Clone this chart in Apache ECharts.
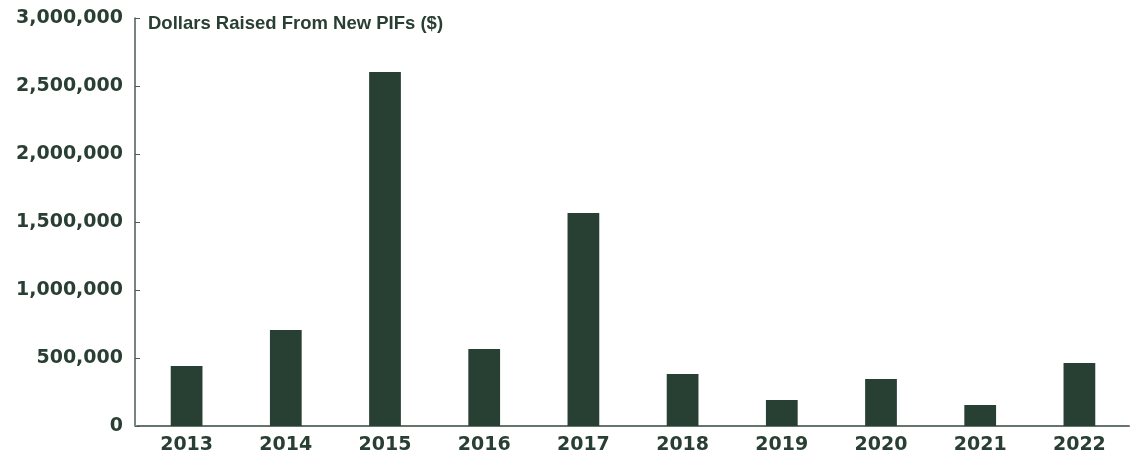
<!DOCTYPE html>
<html>
<head>
<meta charset="utf-8">
<script src="https://cdn.jsdelivr.net/npm/echarts@6/dist/echarts.min.js"></script>
<style>
  html, body { margin: 0; padding: 0; background: #fff; }
  #chart { width: 1133px; height: 461px; }
</style>
</head>
<body>
<div id="chart"></div>
<script>
// values
const years = ['2013', '2014', '2015', '2016', '2017', '2018', '2019', '2020', '2021', '2022'];
const dollarsRaised = [441000, 706000, 2603000, 566000, 1566000, 382000, 191000, 346000, 154000, 463000];
const chartTitle = 'Dollars Raised From New PIFs ($)';

const ink = '#2a3f34';
const barColor = '#283f33';

const chart = echarts.init(document.getElementById('chart'));
chart.setOption({
  animation: false,
  title: {
    text: chartTitle,
    left: 143,
    top: 9,
    textStyle: { fontFamily: 'Liberation Sans', fontWeight: 'bold', fontSize: 18.5, color: ink }
  },
  grid: { left: 137, right: 4, top: 18, bottom: 35 },
  xAxis: {
    type: 'category',
    data: years,
    axisLine: { lineStyle: { color: '#66756c', width: 2 } },
    axisTick: { show: false },
    axisLabel: {
      margin: 10,
      fontFamily: 'DejaVu Sans', fontWeight: 'bold', fontSize: 19, color: ink
    }
  },
  yAxis: {
    type: 'value',
    min: 0,
    max: 3000000,
    interval: 500000,
    offset: 2,
    splitLine: { show: false },
    axisLine: { show: true, lineStyle: { color: '#4b5c52', width: 1.5 } },
    axisTick: { show: true, inside: true, length: 5, lineStyle: { color: '#4b5c52' } },
    axisLabel: {
      margin: 12,
      fontFamily: 'DejaVu Sans', fontWeight: 'bold', fontSize: 19, color: ink,
      formatter: v => v.toLocaleString('en-US')
    }
  },
  series: [{
    type: 'bar',
    data: dollarsRaised,
    barWidth: '32%',
    itemStyle: { color: barColor }
  }]
});
</script>
</body>
</html>
